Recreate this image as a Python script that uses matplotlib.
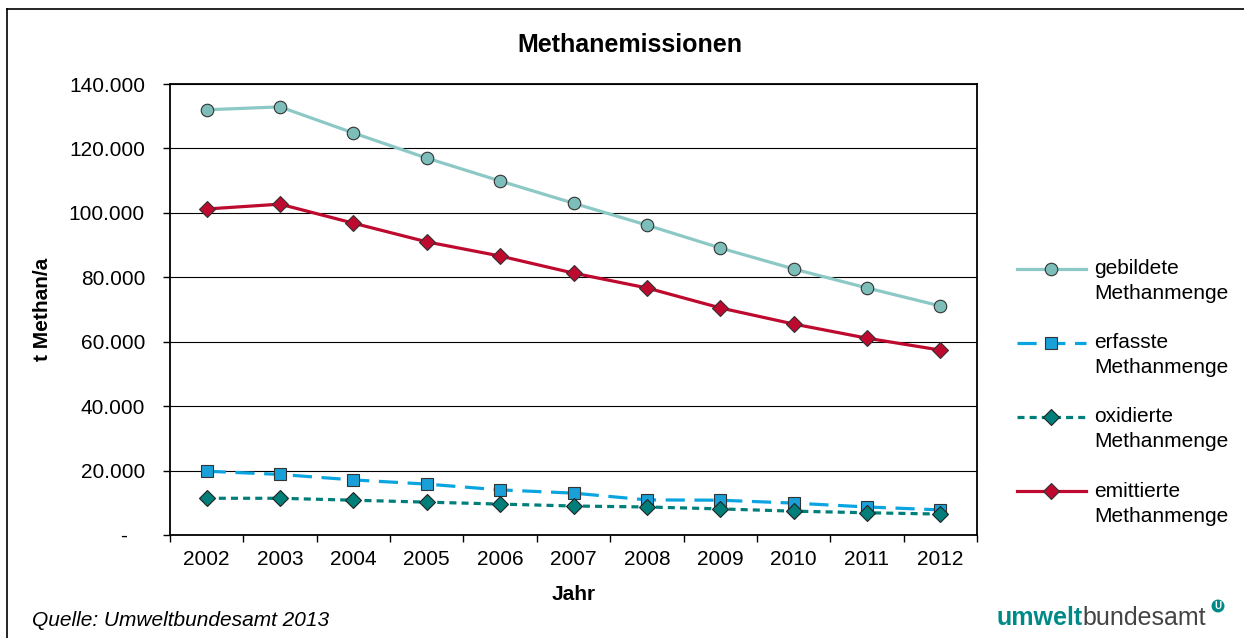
import numpy as np
import matplotlib.pyplot as plt
from matplotlib.lines import Line2D
from matplotlib.legend_handler import HandlerLine2D
from matplotlib.ticker import FuncFormatter, FixedLocator

plt.rcParams["font.family"] = ["Liberation Sans", "DejaVu Sans"]

jahre = ["2002", "2003", "2004", "2005", "2006", "2007",
         "2008", "2009", "2010", "2011", "2012"]
gebildet = [132000, 132900, 124800, 117000, 109900, 103000,
            96200, 89100, 82600, 76700, 71100]
erfasst = [19800, 18800, 17100, 15800, 14000, 13000,
           10900, 10800, 9900, 8700, 7800]
oxidiert = [11400, 11400, 10800, 10200, 9600, 9000,
            8700, 8100, 7400, 6900, 6500]
emittiert = [101200, 102700, 96800, 91000, 86600, 81300,
             76700, 70500, 65500, 61100, 57400]

FS = 15


class TopLineHandler(HandlerLine2D):
    # legend handle sits next to the first text line, like in Excel
    def create_artists(self, *args, **kwargs):
        arts = super().create_artists(*args, **kwargs)
        for a in arts:
            a.set_ydata(np.asarray(a.get_ydata()) + 9.0)
        return arts


fig = plt.figure(figsize=(12.44, 6.38), dpi=100)
ax = fig.add_axes([170 / 1244, 103 / 638, 807 / 1244, 451 / 638])

x = np.arange(len(jahre))
l1, = ax.plot(x, gebildet, color="#8CC9C6", lw=2.3, marker="o", ms=9,
              mfc="#7DBDBA", mec="#333333", mew=0.8, label="gebildete\nMethanmenge", zorder=4)
l2, = ax.plot(x, erfasst, color="#0AA5E0", lw=2.3, ls=(0, (6, 3)), marker="s", ms=8.5,
              mfc="#19A0D8", mec="#333333", mew=0.8, label="erfasste\nMethanmenge", zorder=3)
l3, = ax.plot(x, oxidiert, color="#007F7A", lw=2.3, ls=(0, (2.2, 1.6)), marker="D", ms=8.5,
              mfc="#007F7A", mec="#222222", mew=0.8, label="oxidierte\nMethanmenge", zorder=3)
l4, = ax.plot(x, emittiert, color="#BE0A2E", lw=2.3, marker="D", ms=8.5,
              mfc="#BE0A2E", mec="#333333", mew=0.8, label="emittierte\nMethanmenge", zorder=4)

ax.set_xlim(-0.5, len(jahre) - 0.5)
ax.set_ylim(0, 140000)
ax.set_yticks(np.arange(0, 140001, 20000))


def de_fmt(v, pos):
    if v == 0:
        return "-   "
    return f"{int(v):,}".replace(",", ".")


ax.yaxis.set_major_formatter(FuncFormatter(de_fmt))
ax.set_xticks(x)
ax.set_xticklabels(jahre)
ax.xaxis.set_minor_locator(FixedLocator(np.arange(-0.5, len(jahre), 1.0)))
ax.tick_params(axis="x", which="major", length=0, pad=11, labelsize=FS)
ax.tick_params(axis="x", which="minor", length=5, width=1, direction="out")
ax.tick_params(axis="y", length=5, width=1, direction="out", pad=13, labelsize=FS)

ax.grid(axis="y", color="black", lw=0.8)
ax.set_axisbelow(True)
for s in ax.spines.values():
    s.set_linewidth(1.3)

fig.text(630 / 1244, 1 - 45 / 638, "Methanemissionen", fontsize=18,
         fontweight="bold", ha="center", va="center")
ax.set_ylabel("t Methan/a", fontsize=FS, fontweight="bold", labelpad=12)
ax.set_xlabel("Jahr", fontsize=FS, fontweight="bold", labelpad=11)

hm = {l: TopLineHandler() for l in (l1, l2, l3, l4)}
leg = ax.legend(handler_map=hm, loc="upper left",
                bbox_to_anchor=(1017 / 1244, 1 - 259 / 638),
                bbox_transform=fig.transFigure, frameon=False, fontsize=FS,
                borderpad=0, borderaxespad=0,
                handlelength=3.3, handletextpad=0.4, labelspacing=1.45)
for t in leg.get_texts():
    t.set_linespacing(1.4)

# outer frame (left and top edge)
fig.add_artist(Line2D([7 / 1244, 7 / 1244], [0, 1 - 9 / 638], color="black", lw=1.2))
fig.add_artist(Line2D([7 / 1244, 1], [1 - 9 / 638, 1 - 9 / 638], color="black", lw=1.2))

fig.text(32 / 1244, 1 - 620 / 638, "Quelle: Umweltbundesamt 2013", fontsize=FS,
         style="italic", va="center")
t1 = fig.text(996 / 1244, 1 - 618 / 638, "umwelt", fontsize=18, fontweight="bold",
              color="#008A87", va="center")
fig.canvas.draw()
bb = t1.get_window_extent()
fig.text(bb.x1 / 1244, 1 - 618 / 638, "bundesamt", fontsize=18,
         color="#444444", va="center")
fig.text(1218 / 1244, 1 - 606 / 638, "U", fontsize=7, fontweight="bold", color="white",
         ha="center", va="center",
         bbox=dict(boxstyle="circle,pad=0.15", fc="#008A87", ec="none"))

fig.savefig("out.png", dpi=100)
